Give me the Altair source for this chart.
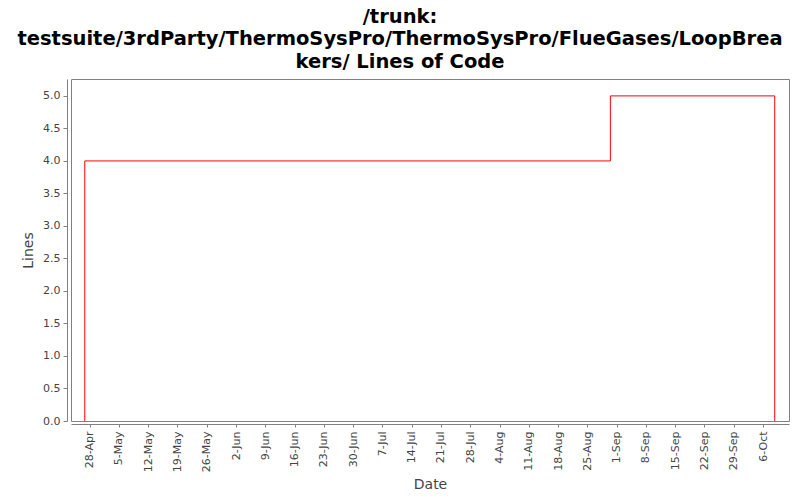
import altair as alt
import pandas as pd
from datetime import datetime

# Data (step line: lines of code over time)
dates = ["2013-04-26T20:00:00", "2013-04-26T20:00:00", "2013-08-30T12:00:00", "2013-10-08T19:00:00"]
lines_of_code = [0, 4, 5, 0]

tick_dates = ["2013-04-28", "2013-05-05", "2013-05-12", "2013-05-19", "2013-05-26",
              "2013-06-02", "2013-06-09", "2013-06-16", "2013-06-23", "2013-06-30",
              "2013-07-07", "2013-07-14", "2013-07-21", "2013-07-28", "2013-08-04",
              "2013-08-11", "2013-08-18", "2013-08-25", "2013-09-01", "2013-09-08",
              "2013-09-15", "2013-09-22", "2013-09-29", "2013-10-06"]
y_ticks = [0.0, 0.5, 1.0, 1.5, 2.0, 2.5, 3.0, 3.5, 4.0, 4.5, 5.0]
x_domain = ["2013-04-23T13:00:00", "2013-10-12T05:00:00"]
y_domain = [0, 5.26]

title_lines = ["/trunk:",
               "testsuite/3rdParty/ThermoSysPro/ThermoSysPro/FlueGases/LoopBrea",
               "kers/ Lines of Code"]

df = pd.DataFrame({"date": dates, "loc": lines_of_code})

def to_dt(s):
    d = datetime.strptime(s, "%Y-%m-%d")
    return alt.DateTime(year=d.year, month=d.month, date=d.day)

def to_dt_full(s):
    d = datetime.strptime(s, "%Y-%m-%dT%H:%M:%S")
    return alt.DateTime(year=d.year, month=d.month, date=d.day, hours=d.hour, minutes=d.minute)

label_color = "#444444"
font = "DejaVu Sans"

chart = alt.Chart(df).mark_line(color="#ff0000", strokeWidth=1, interpolate="step-after").encode(
    x=alt.X("date:T",
            scale=alt.Scale(domain=[to_dt_full(v) for v in x_domain], nice=False),
            axis=alt.Axis(title="Date", values=[to_dt(v) for v in tick_dates],
                          format="%-d-%b", labelAngle=-90, labelAlign="right",
                          labelBaseline="middle", labelPadding=4,
                          offset=3, tickSize=3, grid=False, titlePadding=6)),
    y=alt.Y("loc:Q",
            scale=alt.Scale(domain=y_domain, nice=False, zero=True),
            axis=alt.Axis(title="Lines", values=y_ticks, format=".1f",
                          offset=4, tickSize=4, grid=False, labelPadding=3,
                          titlePadding=7)),
).properties(
    width=718,
    height=342,
    background="white",
    title=alt.TitleParams(text=title_lines, fontSize=19.5, font=font, fontWeight="bold",
                          color="#000000", anchor="middle", dx=-30, offset=7,
                          lineHeight=22.5),
    padding={"left": 63, "top": 71, "right": 3, "bottom": 71},
    autosize=alt.AutoSizeParams(type="none"),
).configure_view(
    stroke="#808080", strokeWidth=1
).configure_axis(
    domainColor="#808080", tickColor="#808080",
    labelColor=label_color, titleColor=label_color,
    labelFont=font, titleFont=font, labelFontSize=11, titleFontSize=14,
    titleFontWeight="normal"
)

chart.save("out.html", embed_options={"renderer": "svg", "actions": False})
